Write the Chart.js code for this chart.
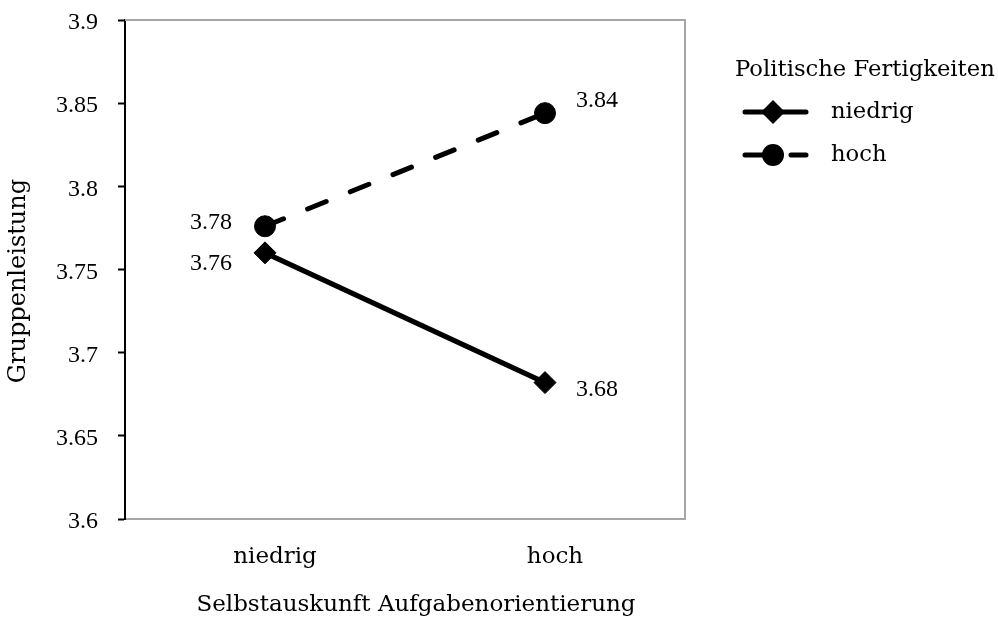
<!DOCTYPE html>
<html><head><meta charset="utf-8">
<script src="https://cdn.jsdelivr.net/npm/chart.js@4.4.1/dist/chart.umd.min.js"></script>
<style>html,body{margin:0;padding:0;background:#fff;} #wrap{width:998px;height:621px;position:relative;}</style>
</head><body><div id="wrap"><canvas id="c" width="998" height="621"></canvas></div>
<script>
// ---- data ----
const categories = ['niedrig', 'hoch'];
const seriesNames = ['niedrig', 'hoch'];
const valuesNiedrig = [3.76, 3.682];
const valuesHoch = [3.776, 3.844];
const yTickValues = [3.6, 3.65, 3.7, 3.75, 3.8, 3.85, 3.9];
const legendTitle = 'Politische Fertigkeiten';
const xTitle = 'Selbstauskunft Aufgabenorientierung';
const yTitle = 'Gruppenleistung';

// ---- styles ----
const WORD_FONT = "'DejaVu Serif', serif";
const NUM_FONT = "'Liberation Serif', serif";
const GREY = '#a6a6a6';

const framePlugin = {
  id: 'frame',
  beforeDatasetsDraw(chart) {
    const {ctx, chartArea: a} = chart;
    ctx.save();
    ctx.strokeStyle = GREY; ctx.lineWidth = 2;
    ctx.beginPath();
    ctx.moveTo(a.left, a.top); ctx.lineTo(a.right, a.top); ctx.lineTo(a.right, a.bottom);
    ctx.stroke();
    ctx.restore();
  }
};

const axisTitlePlugin = {
  id: 'axisTitles',
  afterDraw(chart) {
    const ctx = chart.ctx;
    ctx.save();
    ctx.fillStyle = '#000';
    ctx.textAlign = 'center';
    ctx.textBaseline = 'middle';
    ctx.font = '23px ' + WORD_FONT;
    ctx.fillText(xTitle, 416, 605);
    ctx.translate(19, 281);
    ctx.rotate(-Math.PI / 2);
    ctx.font = '24px ' + WORD_FONT;
    ctx.fillText(yTitle, 0, 0);
    ctx.restore();
  }
};

const labelOffsets = [
  [{dx: -33, dy: 11, align: 'right'}, {dx: 31, dy: 7, align: 'left'}],
  [{dx: -33, dy: -4, align: 'right'}, {dx: 31, dy: -12, align: 'left'}]
];
const dataLabelPlugin = {
  id: 'dlabels',
  afterDatasetsDraw(chart) {
    const ctx = chart.ctx;
    ctx.save();
    ctx.fillStyle = '#000';
    ctx.font = '24px ' + NUM_FONT;
    ctx.textBaseline = 'middle';
    chart.data.datasets.forEach((ds, di) => {
      const meta = chart.getDatasetMeta(di);
      meta.data.forEach((pt, i) => {
        const o = labelOffsets[di][i];
        ctx.textAlign = o.align;
        ctx.fillText(ds.data[i].toFixed(2), pt.x + o.dx, pt.y + o.dy);
      });
    });
    ctx.restore();
  }
};

function drawMarker(ctx, style, x, y) {
  ctx.beginPath();
  if (style === 'circle') {
    ctx.arc(x, y, 11, 0, Math.PI * 2);
  } else {
    const r = 12;
    ctx.moveTo(x, y - r); ctx.lineTo(x + r, y); ctx.lineTo(x, y + r); ctx.lineTo(x - r, y); ctx.closePath();
  }
  ctx.fill();
}

const legendPlugin = {
  id: 'customLegend',
  afterDraw(chart) {
    const ctx = chart.ctx;
    ctx.save();
    ctx.fillStyle = '#000';
    ctx.font = '22.7px ' + WORD_FONT;
    ctx.textAlign = 'left';
    ctx.textBaseline = 'alphabetic';
    ctx.fillText(legendTitle, 735, 76);
    const rows = [112, 155];
    chart.data.datasets.forEach((ds, di) => {
      const y = rows[di];
      ctx.strokeStyle = '#000';
      ctx.lineWidth = ds.borderWidth;
      ctx.lineCap = 'round';
      ctx.setLineDash(ds.borderDash || []);
      ctx.beginPath(); ctx.moveTo(745, y); ctx.lineTo(806, y); ctx.stroke();
      ctx.setLineDash([]);
      ctx.fillStyle = '#000';
      drawMarker(ctx, ds.pointStyle, 773, y);
      ctx.textBaseline = 'middle';
      ctx.fillText(ds.label, 831, y);
    });
    ctx.restore();
  }
};

new Chart(document.getElementById('c'), {
  type: 'line',
  data: {
    labels: categories,
    datasets: [
      { label: seriesNames[0], data: valuesNiedrig, borderColor: '#000', backgroundColor: '#000',
        borderWidth: 5, pointStyle: 'rectRot', pointRadius: 11, pointBorderWidth: 1,
        pointBackgroundColor: '#000', pointBorderColor: '#000', borderCapStyle: 'round' },
      { label: seriesNames[1], data: valuesHoch, borderColor: '#000', backgroundColor: '#000',
        borderWidth: 5, borderDash: [20, 26], borderCapStyle: 'round', pointStyle: 'circle', pointRadius: 10.5, pointBorderWidth: 1,
        pointBackgroundColor: '#000', pointBorderColor: '#000' }
    ]
  },
  options: {
    responsive: false, animation: false, devicePixelRatio: 1,
    layout: { padding: { left: 0, top: 20, right: 313, bottom: 0 } },
    plugins: { legend: { display: false }, tooltip: { enabled: false } },
    scales: {
      x: {
        offset: true,
        grid: { display: false, drawTicks: false },
        border: { display: true, color: GREY, width: 2 },
        ticks: { color: '#000', font: { family: WORD_FONT, size: 23 }, padding: 24, labelOffset: 10 },
        title: { display: false },
        afterFit(s) { s.height = 102; s.paddingLeft = 0; s.paddingRight = 0; }
      },
      y: {
        min: 3.6, max: 3.9,
        afterBuildTicks(s) { s.ticks = yTickValues.map(v => ({ value: v })); },
        grid: { drawOnChartArea: false, drawTicks: true, tickLength: 7, color: '#000', tickWidth: 2 },
        border: { display: true, color: '#000', width: 2 },
        ticks: { color: '#000', font: { family: NUM_FONT, size: 24 }, padding: 20, labelOffset: 3,
          callback: v => String(parseFloat(Number(v).toFixed(2))) },
        title: { display: false },
        afterFit(s) { s.width = 125; s.paddingTop = 0; s.paddingBottom = 0; }
      }
    }
  },
  plugins: [framePlugin, dataLabelPlugin, legendPlugin, axisTitlePlugin]
});
</script></body></html>
